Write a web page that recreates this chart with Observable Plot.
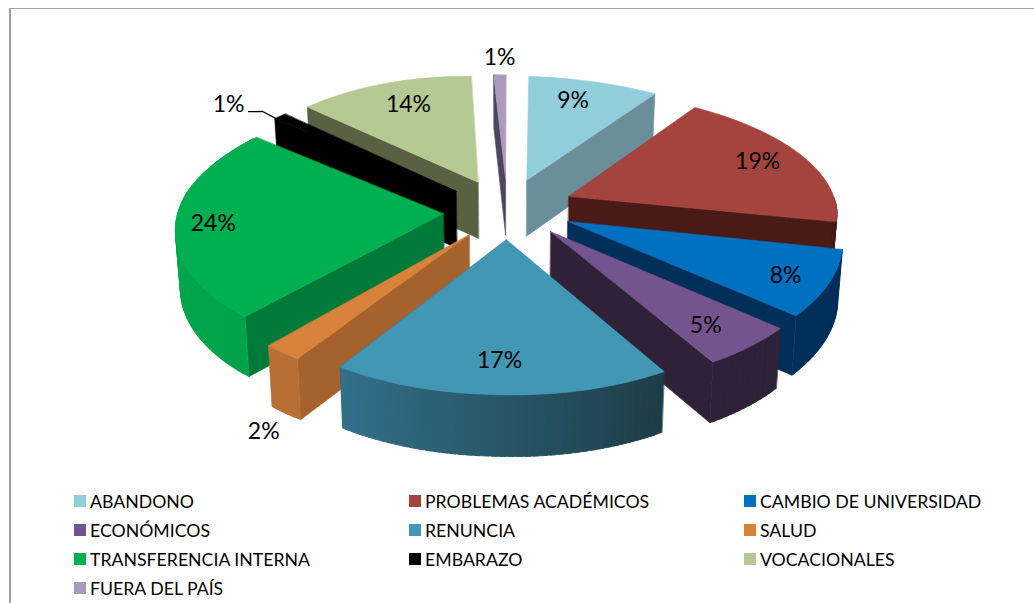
<!DOCTYPE html>
<html lang="es">
<head>
<meta charset="utf-8">
<script src="https://cdn.jsdelivr.net/npm/d3@7"></script>
<script src="https://cdn.jsdelivr.net/npm/@observablehq/plot@0.6"></script>
<style>
  html, body { margin: 0; padding: 0; background: #fff; }
  #page { position: relative; width: 1034px; height: 603px; overflow: hidden; font-family: Lato, sans-serif; color: #000; }
  #frame { position: absolute; left: 9px; top: 8px; right: -4px; bottom: -4px; border-top: 1.5px solid #a0a0a0; border-left: 2px solid #a0a0a0; }
  #chart { position: absolute; left: 0; top: 0; }
  #legend { position: absolute; left: 74px; top: 486.5px; display: grid; grid-template-columns: 335px 335px 280px; grid-auto-rows: 29px; font-size: 17.7px; }
  #legend div { display: flex; align-items: center; white-space: nowrap; height: 29px; }
  #legend i { display: block; width: 12px; height: 12px; margin-right: 4px; flex: none; }
</style>
</head>
<body>
<div id="page">
  <div id="frame"></div>
  <div id="chart"></div>
  <div id="legend"></div>
</div>
<script>
// Data
const categories = ["ABANDONO", "PROBLEMAS ACADÉMICOS", "CAMBIO DE UNIVERSIDAD", "ECONÓMICOS", "RENUNCIA", "SALUD", "TRANSFERENCIA INTERNA", "EMBARAZO", "VOCACIONALES", "FUERA DEL PAÍS"];
const shares = [9, 19, 8, 5, 17, 2, 24, 1, 14, 1];

// Colours
const topColors  = ["#92cddc", "#a5433f", "#0070c0", "#74548f", "#4197b4", "#d9823c", "#00b050", "#000000", "#b5c993", "#a99bbd"];
const wallColors = ["#6b8e9b", "#4a1a16", "#00305a", "#2e2138", "#2a5a6f", "#a5622c", "#007a38", "#000000", "#5a6142", "#4e4660"];
const rimFrom    = ["#6b8e9b", "#4a1a16", "#002f58", "#2e2138", "#1d3c47", "#b86f35", "#00a34a", "#000000", "#5a6142", "#4e4660"];
const rimTo      = ["#6b8e9b", "#4a1a16", "#00305a", "#2e2138", "#33708a", "#b86f35", "#00ab4d", "#000000", "#5a6142", "#4e4660"];

// Label placement on the pie plane: radius from the slice tip and bearing
const labelRadius  = [0.82, 0.81, 0.84, 0.813, 0.78, 1.283, 0.824, 1.355, 0.855, 1.32];
const labelBearing = [12, 67.3, 118, 141.6, 179, 202.7, 265, 309.2, 335.5, 355.7];
const leaderRadius  = [1.064, 1.18, 1.226];
const leaderBearing = [310.7, 311.3, 309.4];

// 3-D view of the exploded pie
const view = {cx: 507, cy: 208, fx: 269, fy: 122, persp: 0.17, explode: 0.25, depth: 57, taper: 0.985};
const labelProject = (px, py) => {
  const w = 1 + view.persp * py;
  return {x: view.cx + (view.fx * px + 12 * py) / w, y: view.cy - view.fy * py / w};
};
// The pie is not quite symmetric in the source: left side narrower, lifted, front-right pinched.
const project = (px, py) => {
  const w = 1 + view.persp * py;
  const r2 = Math.min(px * px + py * py, 1.1);
  const xScale = px < 0 ? 0.955 - 0.055 * Math.max(py, 0) : py < 0 ? 1 + 0.035 * py : 1 + 0.035 * py;
  const shear = py < 0 ? 12 : px < 0 ? 0 : 5;
  const lift = 7 - 7 * px + (px > 0 && py < 0 ? 4 * px * py : 0);
  return {
    x: view.cx + (view.fx * px * xScale + shear * py) / w,
    y: view.cy - view.fy * py / w - r2 * lift
  };
};
const lower = (px, py) => {
  const p = project(px, py);
  return {x: view.cx + (p.x - view.cx) * view.taper, y: p.y + view.depth / (1 + 0.06 * py)};
};

const arcs = d3.pie().sort(null).value(d => d)(shares);
const slices = arcs.map((a, i) => {
  const mid = (a.startAngle + a.endAngle) / 2;
  return {i, a0: a.startAngle, a1: a.endAngle, mid, ax: view.explode * Math.sin(mid), ay: view.explode * Math.cos(mid)};
});
const rimPt = (s, a) => [s.ax + Math.sin(a), s.ay + Math.cos(a)];

const faces = [];
const pushFace = (id, color, pts) => pts.forEach(p => faces.push({id, color, x: p.x, y: p.y}));
const STEP = Math.PI / 120;

[...slices].sort((p, q) => Math.cos(q.mid) - Math.cos(p.mid)).forEach(s => {
  const i = s.i;
  // radial wall facing the viewer
  const wallA = s.mid < Math.PI ? s.a1 : s.a0;
  const [wx, wy] = rimPt(s, wallA);
  pushFace(`w${i}`, wallColors[i], [project(s.ax, s.ay), project(wx, wy), lower(wx, wy), lower(s.ax, s.ay)]);
  // outer wall, in shaded strips that overlap so that no seams show
  const from = Math.max(s.a0, Math.PI / 2), to = Math.min(s.a1, 3 * Math.PI / 2 + 0.55);
  if (to > from) {
    const n = Math.max(1, Math.ceil((to - from) / STEP));
    const shade = d3.interpolateRgb(rimFrom[i], rimTo[i]);
    for (let k = 0; k < n; k++) {
      const b0 = from + (to - from) * k / n;
      const b1 = Math.min(to, from + (to - from) * (k + 1.7) / n);
      const [x0, y0] = rimPt(s, b0), [x1, y1] = rimPt(s, b1);
      pushFace(`r${i}-${k}`, d3.color(shade((k + .5) / n)).formatHex(), [project(x0, y0), project(x1, y1), lower(x1, y1), lower(x0, y0)]);
    }
  }
  // top surface
  const top = [project(s.ax, s.ay)];
  const n = Math.max(2, Math.ceil((s.a1 - s.a0) / STEP));
  for (let k = 0; k <= n; k++) {
    const [x, y] = rimPt(s, s.a0 + (s.a1 - s.a0) * k / n);
    top.push(project(x, y));
  }
  pushFace(`t${i}`, topColors[i], top);
});

const polar = (s, r, deg) => {
  const t = deg * Math.PI / 180;
  return labelProject(s.ax + r * Math.sin(t), s.ay + r * Math.cos(t));
};
const labels = slices.map(s => ({text: `${shares[s.i]}%`, ...polar(s, labelRadius[s.i], labelBearing[s.i])}));
const leader = leaderRadius.map((r, k) => polar(slices[7], r, leaderBearing[k]));

const H = 484;
const plot = Plot.plot({
  width: 1034, height: H,
  margin: 0,
  style: {background: "transparent"},
  x: {domain: [0, 1034], range: [0, 1034], axis: null},
  y: {domain: [0, H], range: [0, H], axis: null},
  color: {type: "identity"},
  marks: [
    Plot.line(faces, {x: "x", y: "y", z: "id", fill: "color", stroke: "color", strokeWidth: 0.6, curve: "linear-closed"}),
    Plot.line(leader, {x: "x", y: "y", stroke: "#000", strokeWidth: 1.3}),
    Plot.text(labels, {x: "x", y: "y", text: "text", fontSize: 23, fontFamily: "Lato, sans-serif", fill: "#000", textAnchor: "middle", lineAnchor: "middle"})
  ]
});
document.getElementById("chart").appendChild(plot);

const legend = document.getElementById("legend");
categories.forEach((c, i) => {
  const row = document.createElement("div");
  const sw = document.createElement("i");
  sw.style.background = topColors[i];
  row.appendChild(sw);
  row.appendChild(document.createTextNode(c));
  legend.appendChild(row);
});
</script>
</body>
</html>
